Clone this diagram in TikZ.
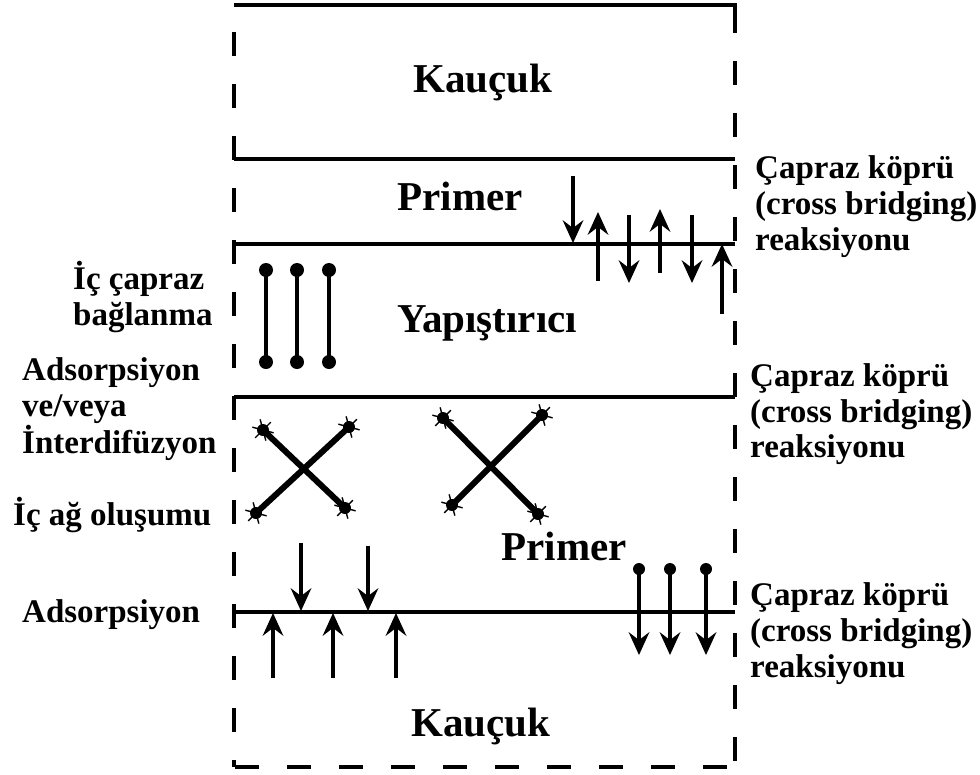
\documentclass[tikz,border=0pt]{standalone}
\usepackage{fontspec}
\setmainfont{Liberation Serif}
\usetikzlibrary{arrows.meta}
\begin{document}
\begin{tikzpicture}[x=1pt,y=-1pt,
  big/.style={font=\fontsize{41}{45}\selectfont\bfseries, inner sep=0pt, anchor=base},
  lab/.style={font=\fontsize{33}{37}\selectfont\bfseries, inner sep=0pt, anchor=base west},
  layer/.style={line width=3.2pt},
  edgeline/.style={line width=3.2pt, dash pattern=on 24pt off 28pt},
  shaft/.style={line width=4pt},
  bar/.style={line width=4pt},
  xarm/.style={line width=6pt},
  xtip/.pic={\fill (0,0) circle (6);
    \foreach \a in {15,75,135,195,255,315} \draw[line width=1.4pt] (0,0) -- (\a:11);},
  headdown/.pic={\fill (0,0) -- (-10.5,-23) -- (0,-15) -- (10.5,-23) -- cycle;},
  headup/.pic={\fill (0,0) -- (-10.5,23) -- (0,15) -- (10.5,23) -- cycle;},
]
\useasboundingbox (0,0) rectangle (980,774);
% border
\draw[line width=4pt] (234,5) -- (735,5) -- (735,33);
\draw[edgeline, dash phase=24pt] (735,33) -- (735,767);
\draw[edgeline] (235,767) -- (735,767);
\draw[edgeline, dash phase=25pt] (234,5) -- (234,767);
% layer lines
\draw[layer] (234,159) -- (735,159);
\draw[layer] (234,244) -- (735,244);
\draw[layer] (234,397) -- (735,397);
\draw[layer] (234,612) -- (735,612);
% layer names
\node[big] (k1) at (483,92) {Kauçuk};
\node[big] (p1) at (460,210) {Primer};
\node[big] (y1) at (487,332) {Yapıştırıcı};
\node[big] (p2) at (564,560) {Primer};
\node[big] (k2) at (481,736) {Kauçuk};
% right labels
\node[lab] (r1a) at (755,178) {Çapraz köprü};
\node[lab] (r1b) at (755,214) {(cross bridging)};
\node[lab] (r1c) at (755,250) {reaksiyonu};
\node[lab] (r2a) at (750,386) {Çapraz köprü};
\node[lab] (r2b) at (750,422) {(cross bridging)};
\node[lab] (r2c) at (750,457) {reaksiyonu};
\node[lab] (r3a) at (750,605) {Çapraz köprü};
\node[lab] (r3b) at (750,641) {(cross bridging)};
\node[lab] (r3c) at (750,677) {reaksiyonu};
% left labels
\node[lab] (l1a) at (73,289) {İç çapraz};
\node[lab] (l1b) at (73,325) {bağlanma};
\node[lab] (l2a) at (22,380) {Adsorpsiyon};
\node[lab] (l2b) at (22,416) {ve/veya};
\node[lab] (l2c) at (22,453) {İnterdifüzyon};
\node[lab] (l3) at (13,525) {İç ağ oluşumu};
\node[lab] (l4) at (22,622) {Adsorpsiyon};
% top-right cross bridging arrows (down: x/start/tip, up: x/tail/tip)
\foreach \x/\a/\b in {573/176/243, 629/215/283, 692/215/283}{
  \draw[shaft] (\x,\a) -- (\x,\b-13);
  \pic at (\x,\b) {headdown};
}
\foreach \x/\a/\b in {598/281/212, 660/273/209, 722/314/244}{
  \draw[shaft] (\x,\a) -- (\x,\b+13);
  \pic at (\x,\b) {headup};
}
% dumbbells
\foreach \x in {266,297,329}{
  \draw[bar] (\x,270) -- (\x,362);
  \fill (\x,270) circle (7);
  \fill (\x,362) circle (7);
}
% crosses
\draw[xarm] (263,430) -- (345,508);
\draw[xarm] (256,513) -- (349,427);
\pic at (263,430) {xtip}; \pic at (345,508) {xtip};
\pic at (256,513) {xtip}; \pic at (349,427) {xtip};
\draw[xarm] (443,418) -- (538,514);
\draw[xarm] (452,505) -- (542,415);
\pic at (443,418) {xtip}; \pic at (538,514) {xtip};
\pic at (452,505) {xtip}; \pic at (542,415) {xtip};
% bottom adsorption arrows
\foreach \x/\a/\b in {301/543/611, 368/546/611}{
  \draw[shaft] (\x,\a) -- (\x,\b-13);
  \pic at (\x,\b) {headdown};
}
\foreach \x in {273,333,396}{
  \draw[shaft] (\x,678) -- (\x,626);
  \pic at (\x,613) {headup};
}
% bottom-right cross bridging
\foreach \x in {639,670,706}{
  \fill (\x,569) circle (6);
  \draw[shaft] (\x,569) -- (\x,642);
  \pic at (\x,655) {headdown};
}
\end{tikzpicture}
\end{document}
